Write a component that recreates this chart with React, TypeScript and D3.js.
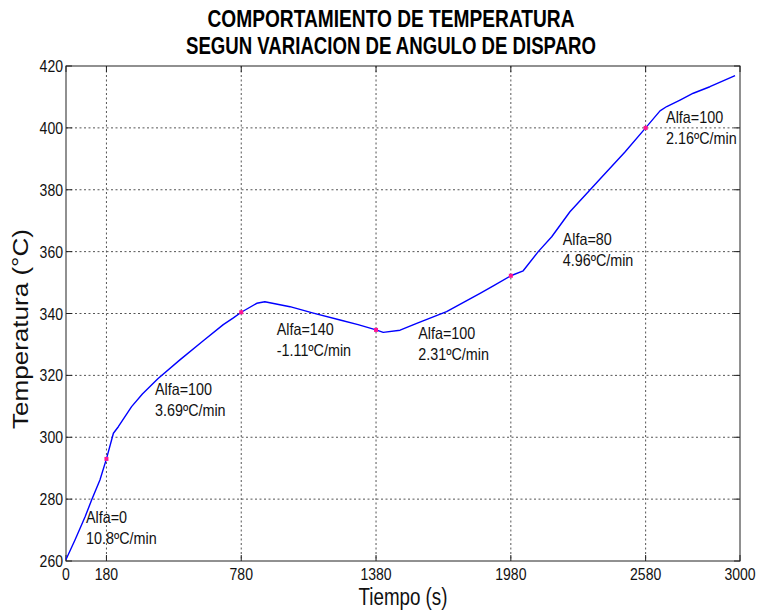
import React from "react";
import * as d3 from "d3";

// ---- data ----
const timeS = [0, 40, 85, 114, 151, 180, 211, 233, 292, 340, 410, 507, 611, 700, 745, 780, 849, 885, 997, 1101, 1220, 1300, 1380, 1412, 1487, 1561, 1694, 1843, 1902, 1980, 2035, 2102, 2162, 2243, 2377, 2488, 2580, 2644, 2674, 2733, 2792, 2866, 2978];
const tempC = [260.5, 266.8, 274.3, 279.7, 286.2, 293.0, 301.3, 303.4, 309.9, 314.0, 319.0, 325.0, 331.2, 336.4, 338.6, 340.4, 343.3, 343.8, 342.2, 340.1, 337.9, 336.4, 334.7, 333.9, 334.6, 336.8, 340.6, 346.5, 348.9, 352.2, 353.8, 360.0, 364.8, 372.9, 383.5, 392.2, 400.0, 405.5, 406.9, 409.0, 411.2, 413.3, 416.9];

const markerTimes = [180, 780, 1380, 1980, 2580];
const markerTemps = [293.0, 340.4, 334.7, 352.2, 400.0];

const xTicks = [0, 180, 780, 1380, 1980, 2580, 3000];
const yTicks = [260, 280, 300, 320, 340, 360, 380, 400, 420];

const annoLine1 = ["Alfa=0", "Alfa=100", "Alfa=140", "Alfa=100", "Alfa=80", "Alfa=100"];
const annoLine2 = ["10.8ºC/min", "3.69ºC/min", "-1.11ºC/min", "2.31ºC/min", "4.96ºC/min", "2.16ºC/min"];
const annoTime = [89, 396, 938, 1568, 2211, 2671];
const annoTemp = [272.3, 313.7, 333.1, 331.7, 362.1, 401.5];

const titleLines = ["COMPORTAMIENTO DE TEMPERATURA", "SEGUN VARIACION DE ANGULO DE DISPARO"];
const xLabel = "Tiempo (s)";
const yLabel = "Temperatura (°C)";

// ---- layout ----
const W = 758;
const H = 614;
const L = 66, R = 740, T = 66, B = 561;
const FONT = "'Liberation Sans', Arial, Helvetica, sans-serif";

export default function App() {
  const x = d3.scaleLinear().domain([0, 3000]).range([L, R]);
  const y = d3.scaleLinear().domain([260, 420]).range([B, T]);
  const pts = timeS.map((t, i) => [t, tempC[i]] as [number, number]);
  const line = d3.line<[number, number]>().x(d => x(d[0])).y(d => y(d[1]));
  const tickLen = 6;

  const Txt = (p: { x: number; y: number; s: number; size: number; anchor?: string; children: any; bold?: boolean }) => (
    <text
      transform={`translate(${p.x},${p.y}) scale(${p.s},1)`}
      fontSize={p.size}
      fontFamily={FONT}
      fontWeight={p.bold ? "bold" : "normal"}
      textAnchor={p.anchor || "start"}
      fill="#111"
    >
      {p.children}
    </text>
  );

  return (
    <svg width={W} height={H} style={{ position: "fixed", left: 0, top: 0, background: "#fff" }}>
      <rect x={0} y={0} width={W} height={H} fill="#fff" />
      {/* grid */}
      {xTicks.filter(t => t > 0 && t < 3000).map(t => (
        <line key={"gx" + t} x1={x(t)} x2={x(t)} y1={T} y2={B} stroke="#555" strokeWidth={1} strokeDasharray="2,2.5" />
      ))}
      {yTicks.filter(v => v > 260 && v < 420).map(v => (
        <line key={"gy" + v} x1={L} x2={R} y1={y(v)} y2={y(v)} stroke="#555" strokeWidth={1} strokeDasharray="2,2.5" />
      ))}
      {/* ticks */}
      {xTicks.map(t => (
        <g key={"tx" + t}>
          <line x1={x(t)} x2={x(t)} y1={B} y2={B - tickLen} stroke="#222" />
          <line x1={x(t)} x2={x(t)} y1={T} y2={T + tickLen} stroke="#222" />
        </g>
      ))}
      {yTicks.map(v => (
        <g key={"ty" + v}>
          <line x1={L} x2={L + tickLen} y1={y(v)} y2={y(v)} stroke="#222" />
          <line x1={R} x2={R - tickLen} y1={y(v)} y2={y(v)} stroke="#222" />
        </g>
      ))}
      {/* box */}
      <rect x={L} y={T} width={R - L} height={B - T} fill="none" stroke="#222" strokeWidth={1} />
      {/* data line */}
      <path d={line(pts) || ""} fill="none" stroke="#0000ff" strokeWidth={1.4} strokeLinejoin="round" />
      {markerTimes.map((t, i) => (
        <rect key={"m" + t} x={x(t) - 2} y={y(markerTemps[i]) - 2} width={4} height={4} fill="#ff1493" />
      ))}
      {/* annotations */}
      {annoLine1.map((s, i) => (
        <g key={"a" + i}>
          <Txt x={x(annoTime[i])} y={y(annoTemp[i])} s={0.87} size={16.5}>{s}</Txt>
          <Txt x={x(annoTime[i])} y={y(annoTemp[i]) + 21} s={0.87} size={16.5}>{annoLine2[i]}</Txt>
        </g>
      ))}
      {/* tick labels */}
      {xTicks.map(t => (
        <Txt key={"lx" + t} x={x(t)} y={B + 19} s={0.85} size={16.5} anchor="middle">{String(t)}</Txt>
      ))}
      {yTicks.map(v => (
        <Txt key={"ly" + v} x={L - 3} y={y(v) + 6} s={0.85} size={16.5} anchor="end">{String(v)}</Txt>
      ))}
      {/* axis labels */}
      <text x={(L + R) / 2} y={605} fontSize={23} fontFamily={FONT} textAnchor="middle" textLength={89} lengthAdjust="spacingAndGlyphs" fill="#111">{xLabel}</text>
      <text transform={`translate(28,329) rotate(-90)`} fontSize={22} fontFamily={FONT} textAnchor="middle" textLength={200} lengthAdjust="spacingAndGlyphs" fill="#111">{yLabel}</text>
      {/* title */}
      <text x={391} y={27} fontSize={24} fontWeight="bold" fontFamily={FONT} textAnchor="middle" textLength={367} lengthAdjust="spacingAndGlyphs" fill="#000">{titleLines[0]}</text>
      <text x={391} y={54} fontSize={24} fontWeight="bold" fontFamily={FONT} textAnchor="middle" textLength={410} lengthAdjust="spacingAndGlyphs" fill="#000">{titleLines[1]}</text>
    </svg>
  );
}
